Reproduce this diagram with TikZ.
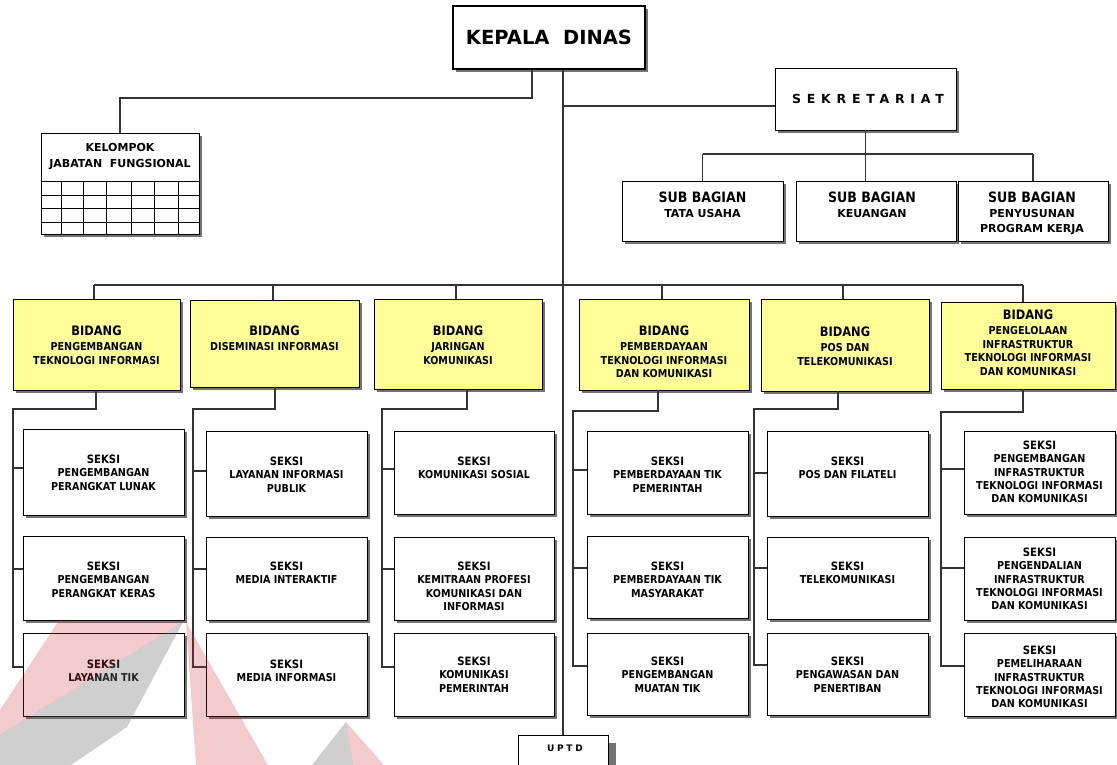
\documentclass[tikz,border=0pt]{standalone}
\usepackage{fontspec}
\setmainfont{DejaVu Sans}
\newfontfamily\cnd{DejaVu Sans}[FakeStretch=0.88]
\usetikzlibrary{shadows}
\definecolor{bidy}{RGB}{255,255,153}
\definecolor{shd}{RGB}{115,115,115}
\definecolor{wmred}{RGB}{210,40,50}
\definecolor{wmgray}{RGB}{110,110,110}
\newcommand\fKD{\fontsize{19.5}{22}\selectfont\bfseries}
\newcommand\fSK{\fontsize{12.5}{15}\selectfont\bfseries\addfontfeature{LetterSpace=46}}
\newcommand\fUP{\fontsize{9}{11}\selectfont\bfseries\addfontfeature{LetterSpace=30}}
\newcommand\fSBa{\cnd\fontsize{14.3}{16}\selectfont\bfseries}
\newcommand\fSBb{\fontsize{11}{15}\selectfont\bfseries}
\newcommand\fBa{\fontsize{13}{15}\selectfont\bfseries}
\newcommand\fBb{\cnd\fontsize{10.9}{13.5}\selectfont\bfseries}
\newcommand\fSa{\fontsize{11.5}{13}\selectfont\bfseries}
\newcommand\fSb{\cnd\fontsize{10.9}{13.2}\selectfont\bfseries}
\newcommand\fKL{\fontsize{11}{16}\selectfont\bfseries}
\tikzset{
  bxn/.style={draw=black, line width=0.9pt, fill=white, inner sep=0pt},
  bx/.style={bxn, drop shadow={shadow xshift=3pt, shadow yshift=-3pt, fill=shd, opacity=1}},
  bid/.style={bx, fill=bidy},
  lbl/.style={align=center, inner sep=0pt, anchor=north},
  ln/.style={line width=1.1pt, draw=black!80},
  wmr/.style={fill=wmred, fill opacity=0.24},
  wmg/.style={fill=wmgray, fill opacity=0.33},
}
% style, name, x1, y1, x2, y2
\newcommand\mkbox[6]{%
  \node[#1, minimum width={(#5)-(#3)}, minimum height={(#6)-(#4)}] (#2) at ({((#3)+(#5))/2},{((#4)+(#6))/2}) {};}
% name, x1,y1,x2,y2, ytop, text
\newcommand\sk[7]{%
  \mkbox{bx}{#1}{#2}{#3}{#4}{#5}
  \node[lbl, font=\fSb] (#1t) at ({((#2)+(#4))/2},#6) {{\fSa SEKSI}\\#7};}
\newcommand\bd[7]{%
  \mkbox{bid}{#1}{#2}{#3}{#4}{#5}
  \node[lbl, font=\fBb] (#1t) at ({((#2)+(#4))/2},#6) {{\fBa BIDANG}\\[1.5pt]#7};}
% n, xc, yh, xl, ya, yb, yc
\newcommand\colc[7]{%
  \coordinate (h#1) at (#2,#3); \coordinate (l#1) at (#4,#3);
  \coordinate (ja#1) at (#4,#5); \coordinate (jb#1) at (#4,#6); \coordinate (jc#1) at (#4,#7);
  \draw[ln] (B#1.south -| h#1) -- (h#1) -- (l#1) -- (jc#1) -- (jc#1 -| S#1c.west);
  \draw[ln] (ja#1) -- (ja#1 -| S#1a.west);
  \draw[ln] (jb#1) -- (jb#1 -| S#1b.west);}
\begin{document}
\begin{tikzpicture}[x=1pt,y=-1pt]
\useasboundingbox (0,0) rectangle (1117,765);
\fill[white] (0,0) rectangle (1117,765);

% top
\mkbox{bx, line width=2pt}{KD}{453}{6}{645}{69}
\node[font=\fKD] (KDt) at (549,37.5) {KEPALA\ \ DINAS};

\mkbox{bx}{K}{41}{133}{199}{234}
\node[lbl, font=\fKL] (Kt) at (120,143) {KELOMPOK\\JABATAN\ \ FUNGSIONAL};
\draw[line width=0.8pt] (41,181) -- (199,181) (41,195) -- (199,195) (41,208) -- (199,208) (41,222) -- (199,222);
\foreach \x in {61.4,82.9,106.4,131.4,154.6,178.6} \draw[line width=0.8pt] (\x,181) -- (\x,234);

\mkbox{bx}{SEK}{775}{68}{956}{130}
\node[font=\fSK] (SEKt) at (868,99) {SEKRETARIAT};

\mkbox{bx}{SB1}{622}{181}{783}{241}
\node[lbl, font=\fSBb] (SB1t) at (702.5,192) {{\fSBa SUB BAGIAN}\\TATA USAHA};
\mkbox{bx}{SB2}{796}{181}{956}{241}
\node[lbl, font=\fSBb] (SB2t) at (872,192) {{\fSBa SUB BAGIAN}\\KEUANGAN};
\mkbox{bx}{SB3}{958}{181}{1108}{241}
\node[lbl, font=\fSBb] (SB3t) at (1032,192) {{\fSBa SUB BAGIAN}\\PENYUSUNAN\\PROGRAM KERJA};

% bidang
\bd{B1}{13}{299}{180}{390}{326}{PENGEMBANGAN\\TEKNOLOGI INFORMASI}
\bd{B2}{190}{300}{359}{387}{326}{DISEMINASI INFORMASI}
\bd{B3}{374}{299}{542}{389}{326}{JARINGAN\\KOMUNIKASI}
\bd{B4}{579}{299}{749}{390}{326}{PEMBERDAYAAN\\TEKNOLOGI INFORMASI\\DAN KOMUNIKASI}
\bd{B5}{761}{299}{929}{391}{327}{POS DAN\\TELEKOMUNIKASI}
\bd{B6}{941}{302}{1115}{389}{310}{PENGELOLAAN\\INFRASTRUKTUR\\TEKNOLOGI INFORMASI\\DAN KOMUNIKASI}

% seksi
\sk{S1a}{23}{429}{184}{515}{455}{PENGEMBANGAN\\PERANGKAT LUNAK}
\sk{S1b}{23}{536}{184}{620}{562}{PENGEMBANGAN\\PERANGKAT KERAS}
\sk{S1c}{23}{633}{184}{716}{660}{LAYANAN TIK}
\sk{S2a}{206}{431}{367}{516}{457}{LAYANAN INFORMASI\\PUBLIK}
\sk{S2b}{206}{537}{367}{620}{562}{MEDIA INTERAKTIF}
\sk{S2c}{206}{633}{367}{716}{660}{MEDIA INFORMASI}
\sk{S3a}{394}{431}{554}{514}{457}{KOMUNIKASI SOSIAL}
\sk{S3b}{394}{537}{554}{620}{562}{KEMITRAAN PROFESI\\KOMUNIKASI DAN\\INFORMASI}
\sk{S3c}{394}{633}{554}{716}{657}{KOMUNIKASI\\PEMERINTAH}
\sk{S4a}{587}{431}{748}{514}{457}{PEMBERDAYAAN TIK\\PEMERINTAH}
\sk{S4b}{587}{536}{748}{618}{562}{PEMBERDAYAAN TIK\\MASYARAKAT}
\sk{S4c}{587}{633}{748}{715}{657}{PENGEMBANGAN\\MUATAN TIK}
\sk{S5a}{767}{431}{928}{516}{457}{POS DAN FILATELI}
\sk{S5b}{767}{537}{928}{619}{562}{TELEKOMUNIKASI}
\sk{S5c}{767}{633}{928}{715}{657}{PENGAWASAN DAN\\PENERTIBAN}
\sk{S6a}{964}{431}{1115}{514}{441}{PENGEMBANGAN\\INFRASTRUKTUR\\TEKNOLOGI INFORMASI\\DAN KOMUNIKASI}
\sk{S6b}{964}{537}{1115}{620}{548}{PENGENDALIAN\\INFRASTRUKTUR\\TEKNOLOGI INFORMASI\\DAN KOMUNIKASI}
\sk{S6c}{964}{633}{1115}{716}{646}{PEMELIHARAAN\\INFRASTRUKTUR\\TEKNOLOGI INFORMASI\\DAN KOMUNIKASI}

% UPTD
\node[bxn, drop shadow={shadow xshift=8pt, shadow yshift=-8pt, fill=shd, opacity=1}, minimum width=90, minimum height=40] (UP) at (563,755) {};
\node[font=\fUP] (UPt) at (565,748) {UPTD};

% connectors
\coordinate (kj) at (532,98);
\draw[ln] (KD.south -| kj) -- (kj) -- (kj -| K.north) -- (K.north);
\draw[ln] (KD.south -| UP.north) -- (UP.north);
\coordinate (sj) at (563,106);
\draw[ln] (sj) -- (sj -| SEK.west);
\draw[ln] (SEK.south) -- (SEK.south |- SB2.north);
\coordinate (sh) at (0,154);
\draw[ln] (SB1.north |- sh) -- (SB3.north |- sh);
\draw[ln] (SB1.north |- sh) -- (SB1.north);
\draw[ln] (SB3.north |- sh) -- (SB3.north);

\coordinate (bu1) at (94,285); \coordinate (bu2) at (273,285); \coordinate (bu3) at (456,285);
\coordinate (bu4) at (662,285); \coordinate (bu5) at (843,285); \coordinate (bu6) at (1023,285);
\draw[ln] (bu1) -- (bu6);
\foreach \i in {1,...,6} \draw[ln] (bu\i) -- (bu\i |- B\i.north);

\colc{1}{96}{409}{13}{468}{569}{667}
\colc{2}{275}{409}{193}{471}{569}{667}
\colc{3}{467}{409}{382}{469}{569}{667}
\colc{4}{658}{411}{573}{470}{568}{666}
\colc{5}{838}{409}{754}{473}{568}{665}
\colc{6}{1023}{412}{941}{469}{568}{666}

% faint watermark (bottom left)
\fill[wmr] (58,622) -- (183,622) -- (0,735) -- (0,710) -- cycle;
\fill[wmg] (183,622) -- (0,735) -- (0,765) -- (71,765) -- (127,727) -- cycle;
\fill[wmr] (186,622) -- (268,765) -- (196,765) -- cycle;
\fill[wmg] (346,722) -- (353,765) -- (312,765) -- cycle;
\fill[wmr] (346,722) -- (384,765) -- (353,765) -- cycle;
\end{tikzpicture}
\end{document}
